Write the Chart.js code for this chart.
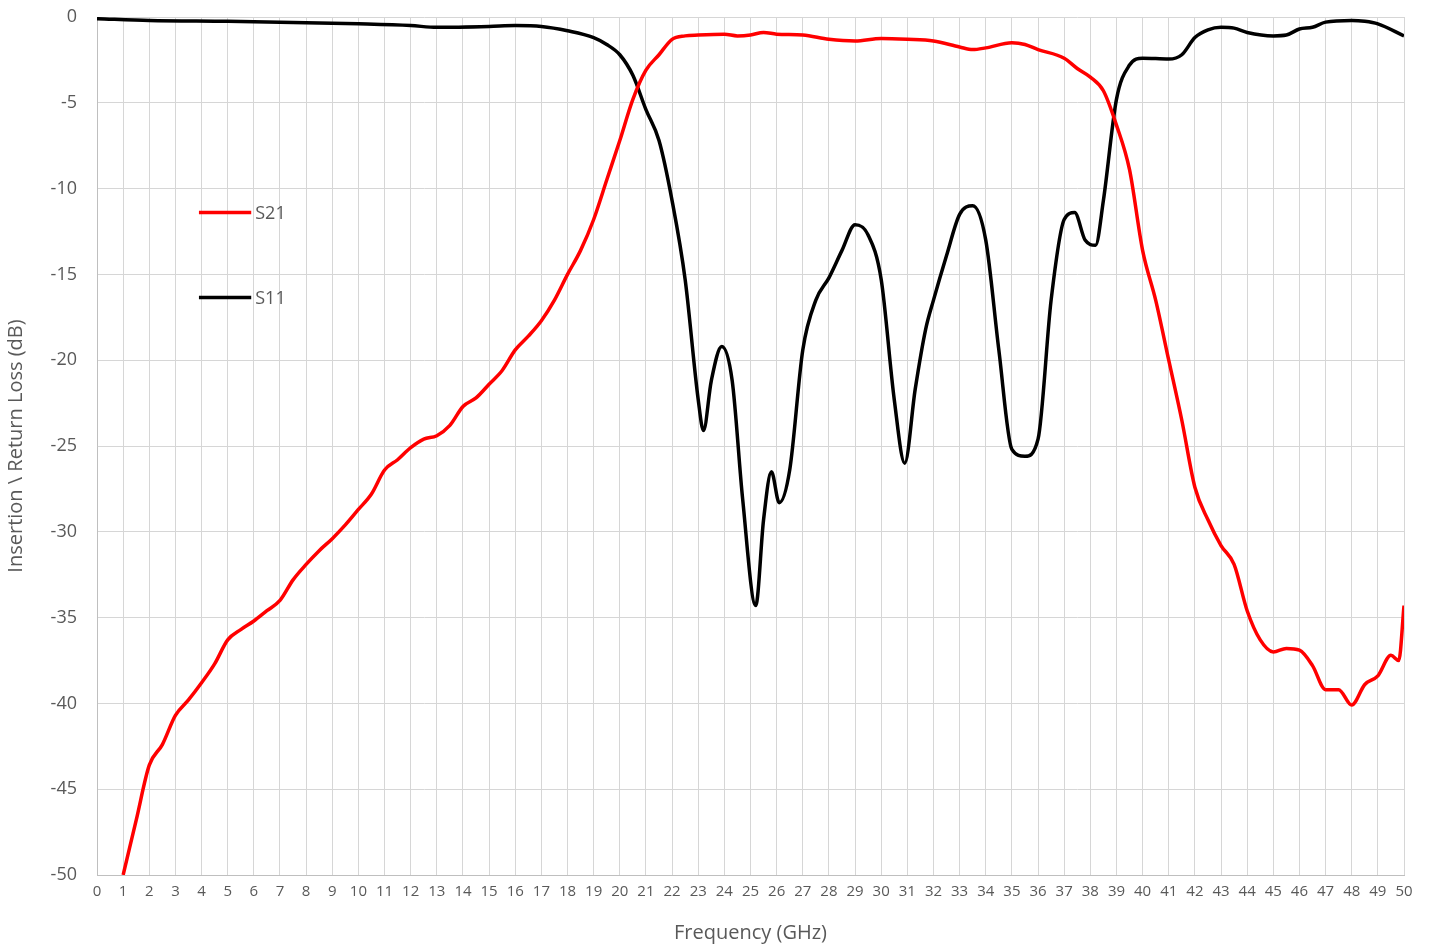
<!DOCTYPE html>
<html>
<head>
<meta charset="utf-8">
<script src="https://cdn.jsdelivr.net/npm/chart.js@4"></script>
<style>
  html, body { margin: 0; padding: 0; background: #fff; }
  #wrap { width: 1430px; height: 949px; }
</style>
</head>
<body>
<div id="wrap"><canvas id="chart" width="1430" height="949"></canvas></div>
<script>
// S21 (insertion loss), [GHz, dB]
var s21Freq = [1, 1.5, 2, 2.5, 3, 3.5, 4, 4.5, 5, 5.5, 6, 6.5, 7, 7.5, 8, 8.5, 9, 9.5, 10, 10.5, 11, 11.5, 12, 12.5, 13, 13.5, 14, 14.5, 15, 15.5, 16, 16.5, 17, 17.5, 18, 18.5, 19, 19.5, 20, 20.5, 21, 21.5, 22, 22.5, 23, 24, 24.5, 25, 25.5, 26, 27, 28, 29, 30, 31, 32, 33, 33.5, 34, 35, 35.5, 36, 37, 37.5, 38, 38.5, 39, 39.5, 40, 40.5, 41, 41.5, 42, 42.5, 43, 43.5, 44, 44.5, 45, 45.5, 46, 46.5, 47, 47.5, 48, 48.5, 49, 49.5, 49.8, 50];
var s21Vals = [-50, -46.8, -43.6, -42.4, -40.7, -39.8, -38.8, -37.7, -36.3, -35.7, -35.2, -34.6, -34.0, -32.8, -31.9, -31.1, -30.4, -29.6, -28.7, -27.8, -26.4, -25.8, -25.1, -24.6, -24.4, -23.8, -22.7, -22.2, -21.4, -20.6, -19.4, -18.6, -17.7, -16.5, -15.0, -13.6, -11.8, -9.5, -7.2, -4.8, -3.1, -2.2, -1.3, -1.1, -1.05, -1.0, -1.1, -1.05, -0.9, -1.0, -1.05, -1.3, -1.4, -1.25, -1.3, -1.4, -1.75, -1.9, -1.8, -1.5, -1.6, -1.9, -2.4, -3.0, -3.5, -4.3, -6.3, -8.9, -13.6, -16.5, -20.0, -23.5, -27.4, -29.3, -30.8, -31.9, -34.6, -36.3, -37.0, -36.8, -36.9, -37.8, -39.2, -39.2, -40.1, -38.9, -38.4, -37.2, -37.5, -34.3];

// S11 (return loss)
var s11Freq = [0, 2, 5, 7, 10, 12, 13, 15, 16, 17, 18, 19, 19.5, 20, 20.5, 21, 21.5, 22, 22.5, 23, 23.2, 23.5, 23.9, 24.3, 24.7, 25.2, 25.5, 25.8, 26.1, 26.5, 27, 27.5, 28, 28.5, 29, 29.5, 30, 30.5, 30.9, 31.3, 31.7, 32, 32.5, 33, 33.5, 34, 34.5, 35, 35.5, 36, 36.5, 37, 37.4, 37.8, 38.2, 38.5, 39, 39.5, 40, 41, 41.5, 42, 42.5, 43, 43.5, 44, 45, 45.5, 46, 46.5, 47, 48, 48.5, 49, 50];
var s11Vals = [-0.1, -0.2, -0.25, -0.3, -0.4, -0.5, -0.6, -0.55, -0.5, -0.55, -0.8, -1.2, -1.6, -2.2, -3.4, -5.4, -7.2, -10.7, -15.3, -22.3, -24.1, -21.2, -19.2, -21.2, -28.1, -34.3, -29.3, -26.5, -28.3, -26.4, -19.4, -16.5, -15.2, -13.6, -12.1, -12.7, -15.3, -22.3, -26.0, -21.7, -18.2, -16.5, -13.9, -11.5, -11.0, -13.0, -19.4, -25.2, -25.6, -24.6, -16.5, -11.8, -11.4, -13.0, -13.3, -10.7, -4.8, -2.8, -2.4, -2.45, -2.2, -1.2, -0.75, -0.6, -0.65, -0.9, -1.1, -1.05, -0.7, -0.6, -0.3, -0.2, -0.25, -0.4, -1.1];

var seriesNames = ['S21', 'S11'];
var seriesColors = ['#ff0000', '#000000'];

function toPoints(xs, ys) {
    return xs.map(function (x, i) { return { x: x, y: ys[i] }; });
}

var textColor = '#595959';
var fontFamily = '"Open Sans", "Liberation Sans", sans-serif';

// legend sits inside the plot area, top-left
var insideLegend = {
    id: 'insideLegend',
    afterDraw: function (chart) {
        var ctx = chart.ctx;
        var xs = chart.scales.x;
        var ys = chart.scales.y;
        var rows = [-11.4, -16.35];
        ctx.save();
        for (var i = 0; i < seriesNames.length; i++) {
            var y = ys.getPixelForValue(rows[i]);
            var x0 = xs.getPixelForValue(3.9);
            var x1 = xs.getPixelForValue(5.9);
            ctx.strokeStyle = seriesColors[i];
            ctx.lineWidth = 3.5;
            ctx.beginPath();
            ctx.moveTo(x0, y);
            ctx.lineTo(x1, y);
            ctx.stroke();
            ctx.fillStyle = textColor;
            ctx.font = '18px ' + fontFamily;
            ctx.textBaseline = 'middle';
            ctx.fillText(seriesNames[i], x1 + 4, y + 1);
        }
        ctx.restore();
    }
};

var ctx = document.getElementById('chart').getContext('2d');
var chart = new Chart(ctx, {
    type: 'line',
    data: {
        datasets: [{
            label: seriesNames[0],
            data: toPoints(s21Freq, s21Vals),
            borderColor: seriesColors[0],
            borderWidth: 3.5,
            pointRadius: 0,
            cubicInterpolationMode: 'monotone'
        }, {
            label: seriesNames[1],
            data: toPoints(s11Freq, s11Vals),
            borderColor: seriesColors[1],
            borderWidth: 3.5,
            pointRadius: 0,
            cubicInterpolationMode: 'monotone'
        }]
    },
    options: {
        responsive: false,
        animation: false,
        layout: { padding: { top: 17, right: 26, left: 0, bottom: 0 } },
        plugins: {
            legend: { display: false },
            tooltip: { enabled: false }
        },
        scales: {
            x: {
                type: 'linear',
                min: 0,
                max: 50,
                afterFit: function (scale) { scale.height = 74; },
                ticks: {
                    stepSize: 1,
                    autoSkip: false,
                    maxRotation: 0,
                    color: textColor,
                    font: { family: fontFamily, size: 15 },
                    padding: 8
                },
                grid: { color: '#d6d6d6', lineWidth: 1, drawTicks: false },
                border: { color: '#bfbfbf', width: 1 },
                title: {
                    display: true,
                    text: 'Frequency (GHz)',
                    color: textColor,
                    font: { family: fontFamily, size: 20 },
                    padding: { top: 10 }
                }
            },
            y: {
                min: -50,
                max: 0,
                afterFit: function (scale) {
                    scale.width = 97;
                    scale.paddingTop = 0;
                    scale.paddingBottom = 0;
                },
                ticks: {
                    stepSize: 5,
                    color: textColor,
                    font: { family: fontFamily, size: 18 },
                    padding: 20
                },
                grid: { color: '#d6d6d6', lineWidth: 1, drawTicks: false },
                border: { color: '#bfbfbf', width: 1 },
                title: {
                    display: true,
                    text: 'Insertion \\ Return Loss (dB)',
                    color: textColor,
                    font: { family: fontFamily, size: 20 },
                    padding: { bottom: 4 }
                }
            }
        }
    },
    plugins: [insideLegend]
});
</script>
</body>
</html>
